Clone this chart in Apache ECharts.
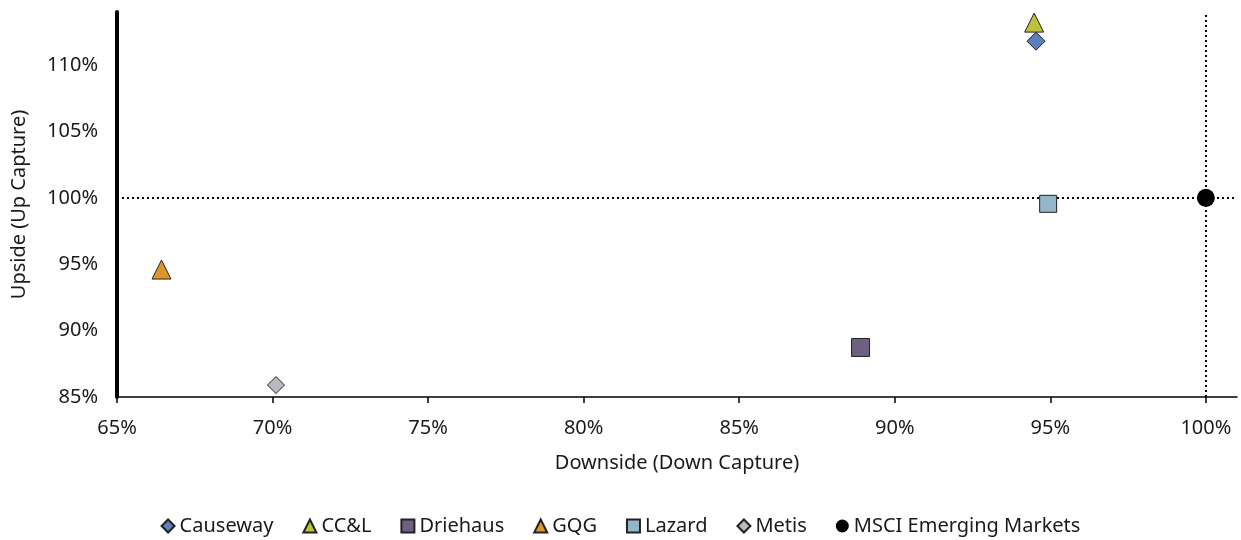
<!DOCTYPE html>
<html>
<head>
<meta charset="utf-8">
<script src="https://cdn.jsdelivr.net/npm/echarts@6/dist/echarts.min.js"></script>
<style>html,body{margin:0;padding:0;background:#fff}#c{width:1241px;height:540px}</style>
</head>
<body>
<div id="c"></div>
<script>
var names = ["Causeway", "CC&L", "Driehaus", "GQG", "Lazard", "Metis", "MSCI Emerging Markets"];
var downside = [94.54, 94.48, 88.9, 66.43, 94.93, 70.11, 100.0];
var upside = [111.8, 113.2, 88.73, 94.6, 99.55, 85.9, 100.0];
var symbols = ["diamond", "triangle", "rect", "triangle", "rect", "diamond", "circle"];
var sizes = [18, 19, 18, 19, 17, 17, 18];
var colors = ["#5B7FBF", "#BCC23A", "#6E6080", "#E0952A", "#94B6C9", "#BDB7C1", "#000000"];
var xTicks = { min: 65, max: 101, step: 5 };
var yTicks = { min: 85, max: 114, step: 5 };
var refX = 100, refY = 100;

var font = "'Noto Sans', sans-serif";
var fs = 20;
var series = names.map(function (n, i) {
  return {
    name: n,
    type: "scatter",
    symbol: symbols[i],
    symbolSize: sizes[i],
    data: [[downside[i], upside[i]]],
    itemStyle: { color: colors[i], borderColor: "#222", borderWidth: i === 6 ? 0 : 1, opacity: 1 },
    z: 5
  };
});
series.push({
  name: "_ref",
  type: "scatter",
  data: [],
  markLine: {
    silent: true,
    symbol: "none",
    label: { show: false },
    lineStyle: { color: "#000", type: [2, 3], width: 2 },
    data: [{ xAxis: refX }, { yAxis: refY }]
  },
  z: 2
});

var chart = echarts.init(document.getElementById("c"));
chart.setOption({
  animation: false,
  textStyle: { fontFamily: font },
  grid: { left: 117, right: 4, top: 12, bottom: 143 },
  legend: {
    data: names,
    top: 516,
    padding: 0,
    left: "center",
    itemWidth: 13,
    itemHeight: 13,
    itemGap: 29,
    textStyle: { fontSize: fs, color: "#1a1a1a", fontFamily: font }
  },
  xAxis: {
    type: "value",
    min: xTicks.min,
    max: xTicks.max,
    interval: xTicks.step,
    name: "Downside (Down Capture)",
    nameLocation: "middle",
    nameGap: 56,
    nameTextStyle: { fontSize: fs, color: "#1a1a1a", fontFamily: font },
    axisLine: { show: true, onZero: false, lineStyle: { color: "#000", width: 1.5 } },
    axisTick: { show: true, length: 6, lineStyle: { color: "#000", width: 1.5 } },
    axisLabel: { fontSize: fs, color: "#1a1a1a", margin: 21, showMaxLabel: false, formatter: function (v) { return v + "%"; } },
    splitLine: { show: false }
  },
  yAxis: {
    type: "value",
    min: yTicks.min,
    max: yTicks.max,
    interval: yTicks.step,
    name: "Upside (Up Capture)",
    nameLocation: "middle",
    nameGap: 88,
    nameTextStyle: { fontSize: fs, color: "#1a1a1a", fontFamily: font },
    axisLine: { show: true, onZero: false, lineStyle: { color: "#000", width: 4 } },
    axisTick: { show: false },
    axisLabel: { fontSize: fs, color: "#1a1a1a", margin: 19, showMaxLabel: false, formatter: function (v) { return v + "%"; } },
    splitLine: { show: false }
  },
  series: series
});
</script>
</body>
</html>
